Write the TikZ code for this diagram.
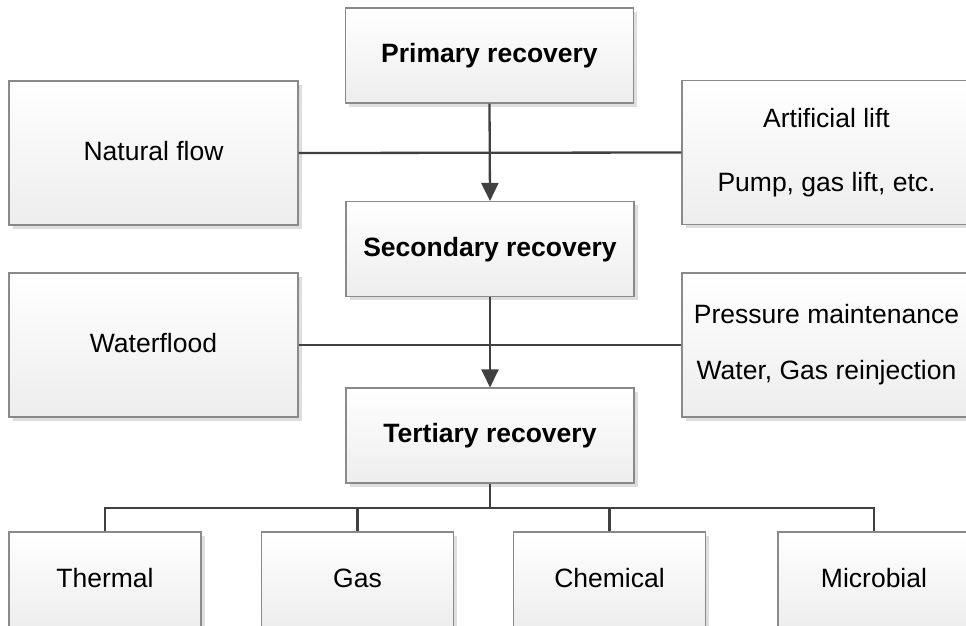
\documentclass[tikz,border=0pt]{standalone}
\usepackage{fontspec}
\setmainfont{Liberation Sans}
\usetikzlibrary{arrows.meta,shadows}
\definecolor{boxline}{HTML}{8A8A8A}
\definecolor{conncol}{HTML}{404040}
\tikzset{
  box/.style={draw=boxline, line width=1.1pt, top color=white, bottom color=black!7,
    drop shadow={shadow xshift=3.5pt, shadow yshift=-3.5pt, fill=black!13, opacity=1},
    inner sep=0pt, align=center, font=\fontsize{26.5}{30}\selectfont},
  onebox/.style={text height=19pt, text depth=5pt},
  bigbox/.style={box, minimum width=289pt, minimum height=144pt},
  midbox/.style={box, onebox, minimum width=288pt, minimum height=95pt, font=\fontsize{26.5}{30}\selectfont\bfseries},
  botbox/.style={box, onebox, minimum width=192pt, minimum height=96pt},
  conn/.style={draw=conncol, line width=2.3pt},
  arr/.style={conn, -{Triangle[length=18pt, width=17pt]}}
}
\begin{document}
\begin{tikzpicture}[x=1pt, y=-1pt]
\path[use as bounding box] (0,0) rectangle (966,625);
\clip (0,0) rectangle (966,625);
\node[midbox] (prim) at (489.5,55.5) {Primary recovery};
\node[midbox] (sec) at (490,249) {Secondary recovery};
\node[midbox] (tert) at (490,435.5) {Tertiary recovery};
\node[bigbox, onebox] (nat) at (153.5,153) {Natural flow};
\node[bigbox] (art) at (826.5,152.5) {Artificial lift\\[34pt]Pump, gas lift, etc.};
\node[bigbox, onebox] (wat) at (153.5,345) {Waterflood};
\node[bigbox] (pres) at (826.5,345) {Pressure maintenance\\[26pt]Water, Gas reinjection};
\node[botbox] (therm) at (105,580) {Thermal};
\node[botbox] (gas) at (357.5,580) {Gas};
\node[botbox] (chem) at (609.5,580) {Chemical};
\node[botbox] (micro) at (874,580) {Microbial};
\coordinate (bus) at (489.5,508);
\draw[conn] (nat.east) -- (art.west);
\draw[conn] (wat.east) -- (pres.west);
\draw[arr] (prim.south) -- (sec.north);
\draw[arr] (sec.south) -- (tert.north);
\draw[conn] (tert.south) -- (tert.south |- bus);
\draw[conn] (therm.north) |- (bus) -| (micro.north);
\draw[conn] (gas.north) -- (gas.north |- bus);
\draw[conn] (chem.north) -- (chem.north |- bus);
\end{tikzpicture}
\end{document}
